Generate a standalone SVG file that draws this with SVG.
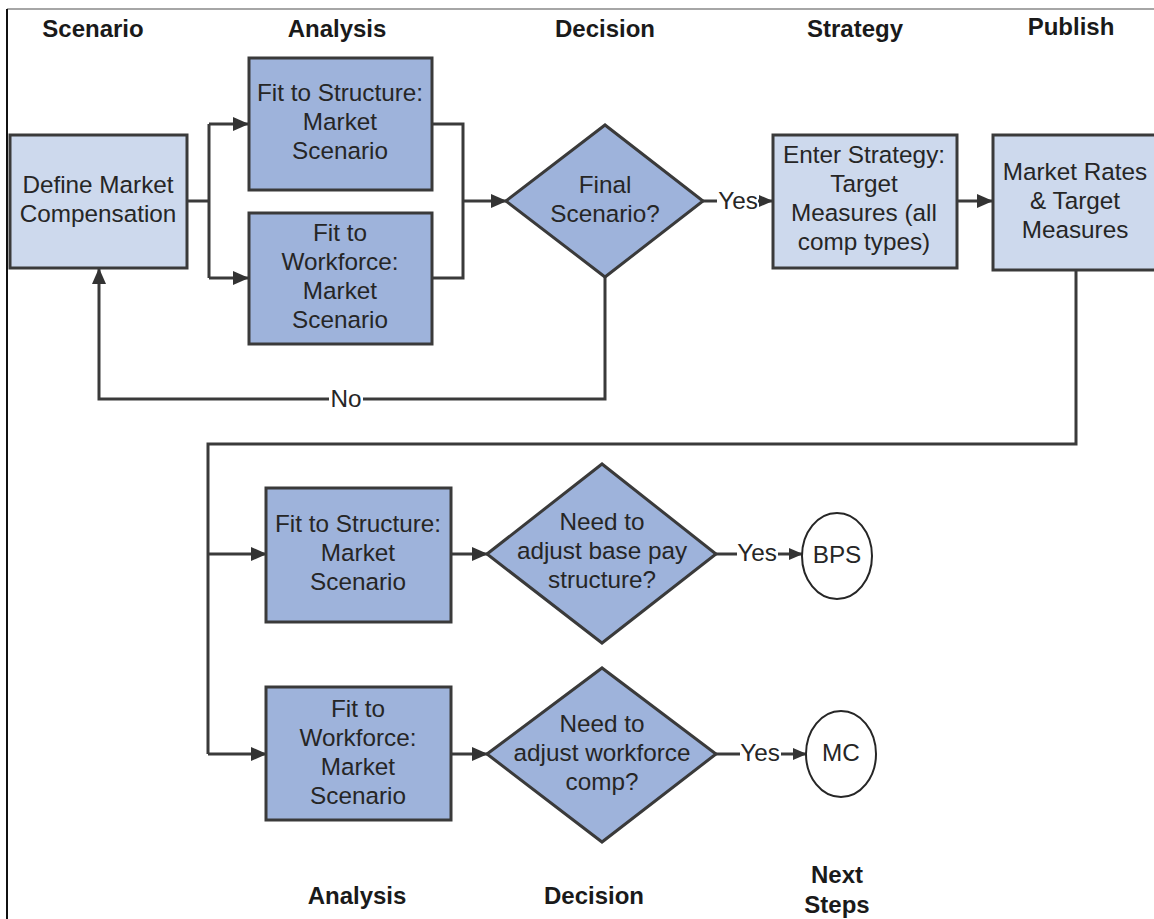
<svg xmlns="http://www.w3.org/2000/svg" width="1154" height="919" viewBox="0 0 1154 919">
<style>
.t{font-family:"Liberation Sans",Arial,sans-serif;font-size:24.3px;fill:#262626;text-anchor:middle}
.h{font-family:"Liberation Sans",Arial,sans-serif;font-size:24px;font-weight:bold;fill:#1a1a1a;text-anchor:middle}
.lt{fill:#cdd9ed;stroke:#3a3a3a;stroke-width:3}
.dk{fill:#9eb3db;stroke:#3a3a3a;stroke-width:3}
.c{fill:none;stroke:#3a3a3a;stroke-width:3}
.el{fill:#fff;stroke:#262626;stroke-width:2}
</style>
<defs>
<marker id="a" markerUnits="userSpaceOnUse" markerWidth="16" markerHeight="14" refX="15" refY="7" orient="auto">
<path d="M0,0 L16,7 L0,14 Z" fill="#333"/>
</marker>
<marker id="s" markerUnits="userSpaceOnUse" markerWidth="14" markerHeight="12" refX="13" refY="6" orient="auto">
<path d="M0,0 L14,6 L0,12 Z" fill="#333"/>
</marker>
</defs>
<rect width="1154" height="919" fill="#fff"/>
<g id="frame">
<line x1="7" y1="9" x2="1154" y2="9" stroke="#888" stroke-width="1.5"/>
<line x1="7" y1="9" x2="7" y2="919" stroke="#111" stroke-width="2"/>
</g>
<g id="headers">
<text class="h" x="93" y="37">Scenario</text>
<text class="h" x="337" y="37">Analysis</text>
<text class="h" x="605" y="37">Decision</text>
<text class="h" x="855" y="37">Strategy</text>
<text class="h" x="1071" y="35">Publish</text>
<text class="h" x="357" y="904">Analysis</text>
<text class="h" x="594" y="904">Decision</text>
<text class="h" x="837" y="883">Next</text>
<text class="h" x="837" y="913">Steps</text>
</g>
<g id="connectors">
<path class="c" d="M187,201 H209 M209,124 V278"/>
<path class="c" d="M209,124 H248" marker-end="url(#a)"/>
<path class="c" d="M209,278 H248" marker-end="url(#a)"/>
<path class="c" d="M432,124 H463 V278 H432"/>
<path class="c" d="M463,201 H506" marker-end="url(#a)"/>
<path class="c" d="M605,277 V399 H99 V269" marker-end="url(#a)"/>
<rect x="329" y="386" width="34" height="26" fill="#fff"/>
<text class="t" x="346" y="407">No</text>
<path class="c" d="M703,201 H717"/>
<text class="t" x="738" y="209">Yes</text>
<path class="c" d="M758,201 H772" marker-end="url(#s)"/>
<path class="c" d="M957,201 H992" marker-end="url(#a)"/>
<path class="c" d="M1076,270 V444 H208 V754"/>
<path class="c" d="M208,554 H266" marker-end="url(#a)"/>
<path class="c" d="M208,754 H266" marker-end="url(#a)"/>
<path class="c" d="M451,554 H487" marker-end="url(#a)"/>
<path class="c" d="M451,754 H487" marker-end="url(#a)"/>
<path class="c" d="M716,554 H737"/>
<text class="t" x="757" y="561">Yes</text>
<path class="c" d="M778,554 H802" marker-end="url(#s)"/>
<path class="c" d="M716,754 H740"/>
<text class="t" x="760" y="761">Yes</text>
<path class="c" d="M781,754 H806" marker-end="url(#s)"/>
</g>
<g id="define">
<rect class="lt" x="10" y="135" width="177" height="133"/>
<text class="t" x="98" y="193">Define Market</text>
<text class="t" x="98" y="222">Compensation</text>
</g>
<g id="fitStructure1">
<rect class="dk" x="249" y="58" width="183" height="132"/>
<text class="t" x="340" y="101">Fit to Structure:</text>
<text class="t" x="340" y="130">Market</text>
<text class="t" x="340" y="159">Scenario</text>
</g>
<g id="fitWorkforce1">
<rect class="dk" x="249" y="213" width="183" height="131"/>
<text class="t" x="340" y="241">Fit to</text>
<text class="t" x="340" y="270">Workforce:</text>
<text class="t" x="340" y="299">Market</text>
<text class="t" x="340" y="328">Scenario</text>
</g>
<g id="finalScenario">
<polygon class="dk" points="506,201 605,125 703,201 605,277"/>
<text class="t" x="605" y="193">Final</text>
<text class="t" x="605" y="222">Scenario?</text>
</g>
<g id="enterStrategy">
<rect class="lt" x="773" y="135" width="184" height="133"/>
<text class="t" x="864" y="163">Enter Strategy:</text>
<text class="t" x="864" y="192">Target</text>
<text class="t" x="864" y="221">Measures (all</text>
<text class="t" x="864" y="250">comp types)</text>
</g>
<g id="publish">
<rect class="lt" x="993" y="135" width="170" height="135"/>
<text class="t" x="1075" y="180">Market Rates</text>
<text class="t" x="1075" y="209">&amp; Target</text>
<text class="t" x="1075" y="238">Measures</text>
</g>
<g id="fitStructure2">
<rect class="dk" x="266" y="488" width="185" height="134"/>
<text class="t" x="358" y="532">Fit to Structure:</text>
<text class="t" x="358" y="561">Market</text>
<text class="t" x="358" y="590">Scenario</text>
</g>
<g id="fitWorkforce2">
<rect class="dk" x="266" y="687" width="185" height="133"/>
<text class="t" x="358" y="717">Fit to</text>
<text class="t" x="358" y="746">Workforce:</text>
<text class="t" x="358" y="775">Market</text>
<text class="t" x="358" y="804">Scenario</text>
</g>
<g id="adjustBasePay">
<polygon class="dk" points="487,554 602,464 716,554 602,643"/>
<text class="t" x="602" y="530">Need to</text>
<text class="t" x="602" y="559">adjust base pay</text>
<text class="t" x="602" y="588">structure?</text>
</g>
<g id="adjustWorkforce">
<polygon class="dk" points="487,754 602,668 716,754 602,842"/>
<text class="t" x="602" y="732">Need to</text>
<text class="t" x="602" y="761">adjust workforce</text>
<text class="t" x="602" y="790">comp?</text>
</g>
<g id="bps">
<ellipse class="el" cx="837" cy="556" rx="35" ry="43"/>
<text class="t" x="837" y="563">BPS</text>
</g>
<g id="mc">
<ellipse class="el" cx="841" cy="754" rx="35" ry="43"/>
<text class="t" x="841" y="761">MC</text>
</g>
</svg>
